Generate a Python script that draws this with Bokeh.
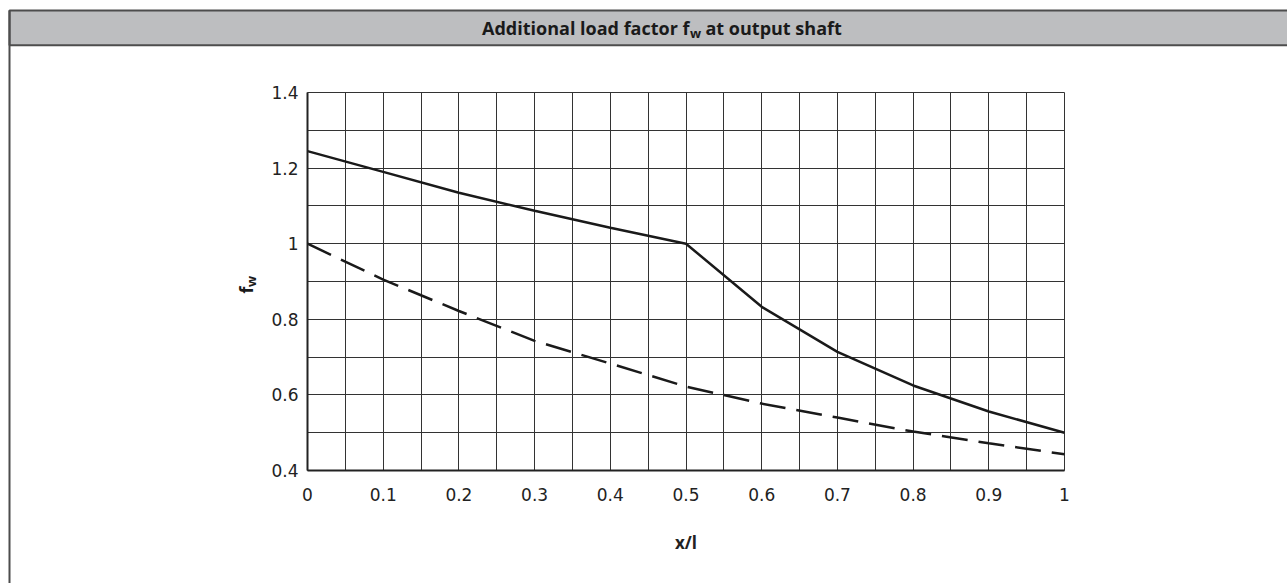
from bokeh.plotting import figure
from bokeh.models import Range1d, FixedTicker, Label, NumeralTickFormatter, Grid
from bokeh.embed import file_html
from bokeh.resources import INLINE

# ---- data ----
x_pos = [0.0, 0.1, 0.2, 0.3, 0.4, 0.5, 0.6, 0.7, 0.8, 0.9, 1.0]
fw_solid = [1.245, 1.19, 1.135, 1.087, 1.042, 1.0, 0.833, 0.714, 0.625, 0.556, 0.5]
fw_dashed = [1.0, 0.905, 0.822, 0.743, 0.683, 0.622, 0.577, 0.54, 0.503, 0.472, 0.443]

x_ticks = [0.0, 0.1, 0.2, 0.3, 0.4, 0.5, 0.6, 0.7, 0.8, 0.9, 1.0]
x_tick_labels = ["0", "0.1", "0.2", "0.3", "0.4", "0.5", "0.6", "0.7", "0.8", "0.9", "1"]
y_ticks = [0.4, 0.6, 0.8, 1.0, 1.2, 1.4]
y_tick_labels = ["0.4", "0.6", "0.8", "1", "1.2", "1.4"]
x_grid = [0.0, 0.05, 0.1, 0.15, 0.2, 0.25, 0.3, 0.35, 0.4, 0.45, 0.5,
          0.55, 0.6, 0.65, 0.7, 0.75, 0.8, 0.85, 0.9, 0.95, 1.0]
y_grid = [0.4, 0.5, 0.6, 0.7, 0.8, 0.9, 1.0, 1.1, 1.2, 1.3, 1.4]

title_left = "Additional load factor f"
title_sub = "w"
title_right = "at output shaft"
x_label = "x/l"
y_label_main = "f"
y_label_sub = "w"

# ---- page geometry (pixels) ----
W, H = 1287, 583
L, T, FW, FH = 307, 92, 757, 378          # plot area inside the page
X0, X1, Y0, Y1 = 0.0, 1.0, 0.4, 1.4       # data limits of the plot area

FRAME_COLOR = "#4d4d4d"
BAND_COLOR = "#bdbec0"
INK = "#1a1a1a"
GRID = "#333333"


def dx(px):
    return X0 + (px - L) / FW * (X1 - X0)


def dy(py):
    return Y1 - (py - T) / FH * (Y1 - Y0)


# the frame covers the whole page; axes are pinned at the plot-area edges
p = figure(width=W, height=H, output_backend="svg", toolbar_location=None,
           x_range=Range1d(dx(0), dx(W)), y_range=Range1d(dy(H), dy(0)),
           min_border_left=0, min_border_right=0,
           min_border_top=0, min_border_bottom=0)
p.background_fill_color = "white"
p.border_fill_color = "white"
p.outline_line_color = None

# ---- grid ----
p.xgrid.ticker = FixedTicker(ticks=x_grid)
p.ygrid.ticker = FixedTicker(ticks=y_grid)
if "cross_bounds" in Grid.properties():
    p.xgrid.bounds = (X0 - 0.01, X1 + 0.01)
    p.xgrid.cross_bounds = (Y0, Y1)
    p.ygrid.bounds = (Y0 - 0.01, Y1 + 0.01)
    p.ygrid.cross_bounds = (X0, X1)
    for g in (p.xgrid, p.ygrid):
        g.grid_line_color = GRID
        g.grid_line_width = 1
        g.grid_line_alpha = 1
else:
    p.xgrid.visible = False
    p.ygrid.visible = False
    p.segment(x0=x_grid, y0=[Y0] * len(x_grid), x1=x_grid, y1=[Y1] * len(x_grid),
              line_color=GRID, line_width=1)
    p.segment(x0=[X0] * len(y_grid), y0=y_grid, x1=[X1] * len(y_grid), y1=y_grid,
              line_color=GRID, line_width=1)

# ---- axes ----
p.xaxis.fixed_location = Y0
p.yaxis.fixed_location = X0
p.xaxis.bounds = (X0, X1)
p.yaxis.bounds = (Y0, Y1)
p.xaxis.ticker = FixedTicker(ticks=x_ticks)
p.yaxis.ticker = FixedTicker(ticks=y_ticks)
p.xaxis.formatter = NumeralTickFormatter(format="0.[0]")
p.yaxis.formatter = NumeralTickFormatter(format="0.[0]")
p.xaxis.major_label_overrides = dict(zip(x_ticks, x_tick_labels))
p.yaxis.major_label_overrides = dict(zip(y_ticks, y_tick_labels))
for ax in (p.xaxis, p.yaxis):
    ax.axis_line_color = "#222222"
    ax.axis_line_width = 2
    ax.major_tick_line_color = None
    ax.minor_tick_line_color = None
    ax.major_tick_out = 0
    ax.major_tick_in = 0
    ax.major_label_text_font = "DejaVu Sans"
    ax.major_label_text_font_size = "17px"
    ax.major_label_text_color = "#222222"
p.xaxis.major_label_standoff = 17
p.yaxis.major_label_standoff = 9
p.xaxis.axis_label = x_label
p.xaxis.axis_label_text_font = "Open Sans"
p.xaxis.axis_label_text_font_style = "bold"
p.xaxis.axis_label_text_font_size = "17px"
p.xaxis.axis_label_text_color = "#222222"
p.xaxis.axis_label_standoff = 27

# ---- curves ----
p.line(x_pos, fw_solid, line_color=INK, line_width=2.5)
p.line(x_pos, fw_dashed, line_color=INK, line_width=2.5, line_dash="26 11")

# ---- title band and left page border ----
p.quad(left=[dx(9)], right=[dx(W + 20)], top=[dy(10)], bottom=[dy(44.7)],
       fill_color=BAND_COLOR, line_color=FRAME_COLOR, line_width=2)
p.segment(x0=[dx(9)], y0=[dy(10)], x1=[dx(9)], y1=[dy(H + 10)],
          line_color=FRAME_COLOR, line_width=2)

xf = 689
p.add_layout(Label(x=dx(xf), y=dy(27.5), text=title_left,
                   text_align="right", text_baseline="alphabetic",
                   text_font="Open Sans", text_font_style="bold",
                   text_font_size="18px", text_color=INK))
p.add_layout(Label(x=dx(xf + 0.5), y=dy(32.5), text=title_sub,
                   text_align="left", text_baseline="alphabetic",
                   text_font="Open Sans", text_font_style="bold",
                   text_font_size="13px", text_color=INK))
p.add_layout(Label(x=dx(xf + 16), y=dy(27.5), text=title_right,
                   text_align="left", text_baseline="alphabetic",
                   text_font="Open Sans", text_font_style="bold",
                   text_font_size="18px", text_color=INK))

# ---- y-axis title with subscript ----
p.add_layout(Label(x=dx(245), y=dy(293), text=y_label_main, angle=1.5707963,
                   text_align="left", text_baseline="alphabetic",
                   text_font="Open Sans", text_font_style="bold",
                   text_font_size="18px", text_color=INK))
p.add_layout(Label(x=dx(250), y=dy(286.5), text=y_label_sub, angle=1.5707963,
                   text_align="left", text_baseline="alphabetic",
                   text_font="Open Sans", text_font_style="bold",
                   text_font_size="13px", text_color=INK))

open("out.html", "w").write(file_html(p, INLINE))
